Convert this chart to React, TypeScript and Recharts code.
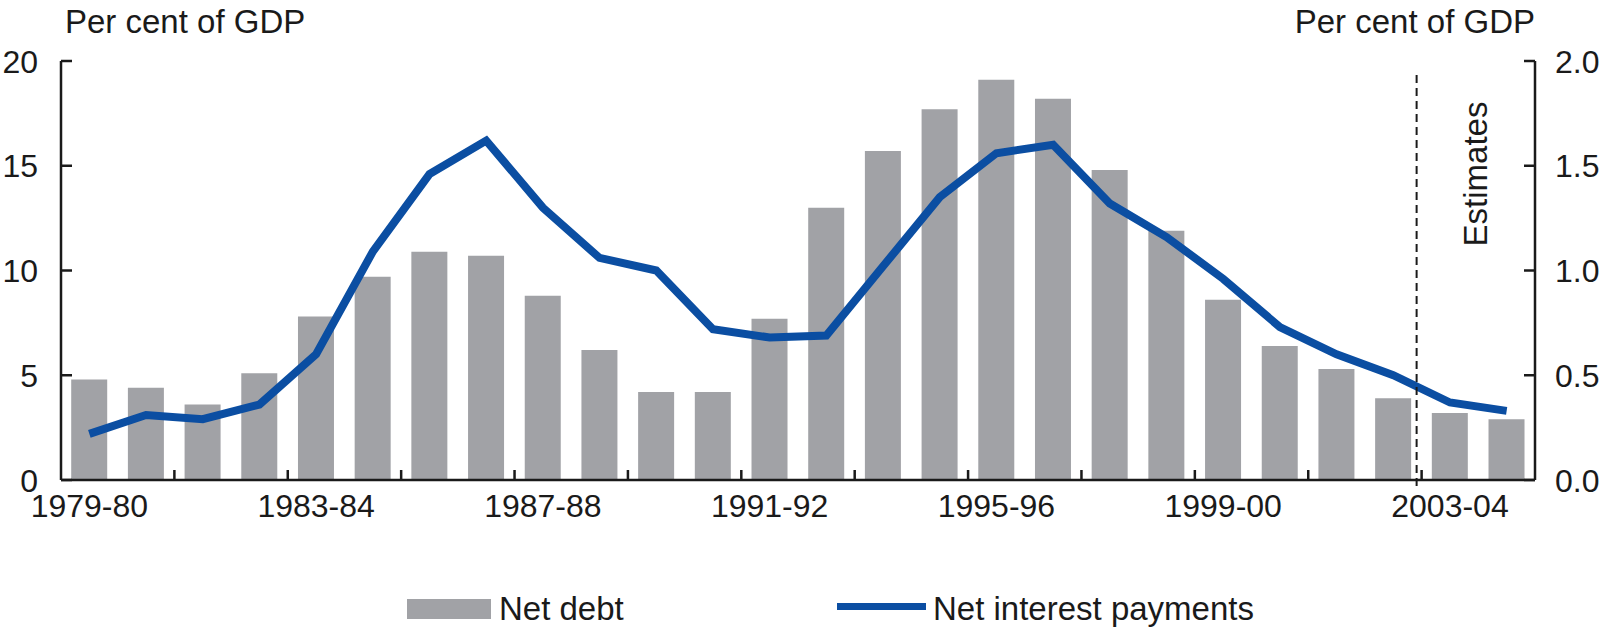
import React from 'react';
import {
  ComposedChart,
  Bar,
  Line,
  XAxis,
  YAxis,
  Legend,
  ReferenceLine,
} from 'recharts';

const years = [
  '1979-80', '1980-81', '1981-82', '1982-83', '1983-84', '1984-85', '1985-86',
  '1986-87', '1987-88', '1988-89', '1989-90', '1990-91', '1991-92', '1992-93',
  '1993-94', '1994-95', '1995-96', '1996-97', '1997-98', '1998-99', '1999-00',
  '2000-01', '2001-02', '2002-03', '2003-04', '2004-05',
];

const netDebt = [
  4.8, 4.4, 3.6, 5.1, 7.8, 9.7, 10.9, 10.7, 8.8, 6.2, 4.2, 4.2, 7.7, 13.0,
  15.7, 17.7, 19.1, 18.2, 14.8, 11.9, 8.6, 6.4, 5.3, 3.9, 3.2, 2.9,
];

const netInterest = [
  0.22, 0.31, 0.29, 0.36, 0.6, 1.09, 1.46, 1.62, 1.3, 1.06, 1.0, 0.72, 0.68,
  0.69, 1.02, 1.35, 1.56, 1.6, 1.32, 1.16, 0.96, 0.73, 0.6, 0.5, 0.37, 0.33,
];

const leftTicks = [0, 5, 10, 15, 20];
const rightTicks = [0, 0.5, 1, 1.5, 2];
const labelEvery = 4;
const markEvery = 2;

const data = years.map((year, i) => ({
  year,
  debt: netDebt[i],
  interest: netInterest[i],
}));

const W = 1606;
const H = 633;
const LEFT = 61;
const RIGHT = 71;
const TOP = 61;
const BOTTOM_AXIS = 480;
const band = (W - LEFT - RIGHT) / years.length;

const FONT = '"Liberation Sans", Arial, sans-serif';
const BAR = '#a1a2a6';
const BLUE = '#0b4ea2';
const INK = '#1a1a1a';

const XTick = (props: any) => {
  const { x, index, payload } = props;
  const bx = x - band / 2;
  return (
    <g>
      {index % markEvery === 0 && index > 0 && (
        <line x1={bx} x2={bx} y1={BOTTOM_AXIS} y2={BOTTOM_AXIS - 10} stroke={INK} strokeWidth={2.5} />
      )}
      {index % labelEvery === 0 && (
        <text x={x} y={BOTTOM_AXIS + 25} dy="0.36em" textAnchor="middle" fontSize={32} fontFamily={FONT} fill={INK}>
          {payload.value}
        </text>
      )}
    </g>
  );
};

const LeftTick = (props: any) => {
  const { y, payload } = props;
  return (
    <g>
      <line x1={LEFT} x2={LEFT + 11} y1={y} y2={y} stroke={INK} strokeWidth={2.5} />
      <text x={LEFT - 23} y={y} dy="0.36em" textAnchor="end" fontSize={32} fontFamily={FONT} fill={INK}>
        {payload.value}
      </text>
    </g>
  );
};

const RightTick = (props: any) => {
  const { y, payload } = props;
  const ax = W - RIGHT;
  return (
    <g>
      <line x1={ax} x2={ax - 11} y1={y} y2={y} stroke={INK} strokeWidth={2.5} />
      <text x={ax + 20} y={y} dy="0.36em" textAnchor="start" fontSize={32} fontFamily={FONT} fill={INK}>
        {Number(payload.value).toFixed(1)}
      </text>
    </g>
  );
};

const DashedLine = (props: any) => {
  const top = Math.min(props.y1, props.y2);
  const bottom = Math.max(props.y1, props.y2);
  const x = props.x1 - 5;
  return (
    <line x1={x} x2={x} y1={top + 14} y2={bottom + 10} stroke={INK} strokeWidth={2} strokeDasharray="8 5" />
  );
};

const ChartLegend = () => (
  <div style={{ position: 'relative', height: 60, width: W, fontFamily: FONT, fontSize: 33, color: INK }}>
    <div style={{ position: 'absolute', left: 407, top: 26, width: 84, height: 20, background: BAR }} />
    <div style={{ position: 'absolute', left: 499, top: 16, lineHeight: '40px' }}>Net debt</div>
    <div style={{ position: 'absolute', left: 837, top: 30, width: 89, height: 7, background: BLUE }} />
    <div style={{ position: 'absolute', left: 933, top: 16, lineHeight: '40px' }}>Net interest payments</div>
  </div>
);

export default function App() {
  return (
    <div style={{ position: 'absolute', left: 0, top: 0, width: W, height: H, background: '#fff' }}>
      <div style={{ position: 'absolute', left: 65, top: 3, fontFamily: FONT, fontSize: 33, color: INK, lineHeight: '38px' }}>
        Per cent of GDP
      </div>
      <div style={{ position: 'absolute', right: RIGHT, top: 3, fontFamily: FONT, fontSize: 33, color: INK, lineHeight: '38px' }}>
        Per cent of GDP
      </div>
      <ComposedChart
        width={W}
        height={H}
        data={data}
        margin={{ top: TOP, right: 0, left: 0, bottom: 0 }}
        barCategoryGap="18%"
      >
        <XAxis
          dataKey="year"
          interval={0}
          height={93}
          tickSize={0}
          tickMargin={0}
          tickLine={false}
          tick={<XTick />}
          axisLine={{ stroke: INK, strokeWidth: 2.5 }}
        />
        <YAxis
          yAxisId="left"
          orientation="left"
          width={LEFT}
          domain={[0, 20]}
          ticks={leftTicks}
          tickSize={0}
          tickMargin={0}
          tickLine={false}
          tick={<LeftTick />}
          axisLine={{ stroke: INK, strokeWidth: 2.5 }}
        />
        <YAxis
          yAxisId="right"
          orientation="right"
          width={RIGHT}
          domain={[0, 2]}
          ticks={rightTicks}
          tickSize={0}
          tickMargin={0}
          tickLine={false}
          tick={<RightTick />}
          axisLine={{ stroke: INK, strokeWidth: 2.5 }}
        />
        <Legend verticalAlign="bottom" content={<ChartLegend />} />
        <Bar yAxisId="left" dataKey="debt" name="Net debt" fill={BAR} isAnimationActive={false} />
        <Line
          yAxisId="right"
          dataKey="interest"
          name="Net interest payments"
          stroke={BLUE}
          strokeWidth={8}
          strokeLinejoin="miter"
          dot={false}
          activeDot={false}
          isAnimationActive={false}
        />
        <ReferenceLine yAxisId="left" x="2003-04" position="start" shape={<DashedLine />} />
      </ComposedChart>
      <div
        style={{
          position: 'absolute',
          left: 1476,
          top: 174,
          transform: 'translate(-50%, -50%) rotate(-90deg)',
          fontFamily: FONT,
          fontSize: 33,
          color: INK,
          whiteSpace: 'nowrap',
          lineHeight: '36px',
        }}
      >
        Estimates
      </div>
    </div>
  );
}
